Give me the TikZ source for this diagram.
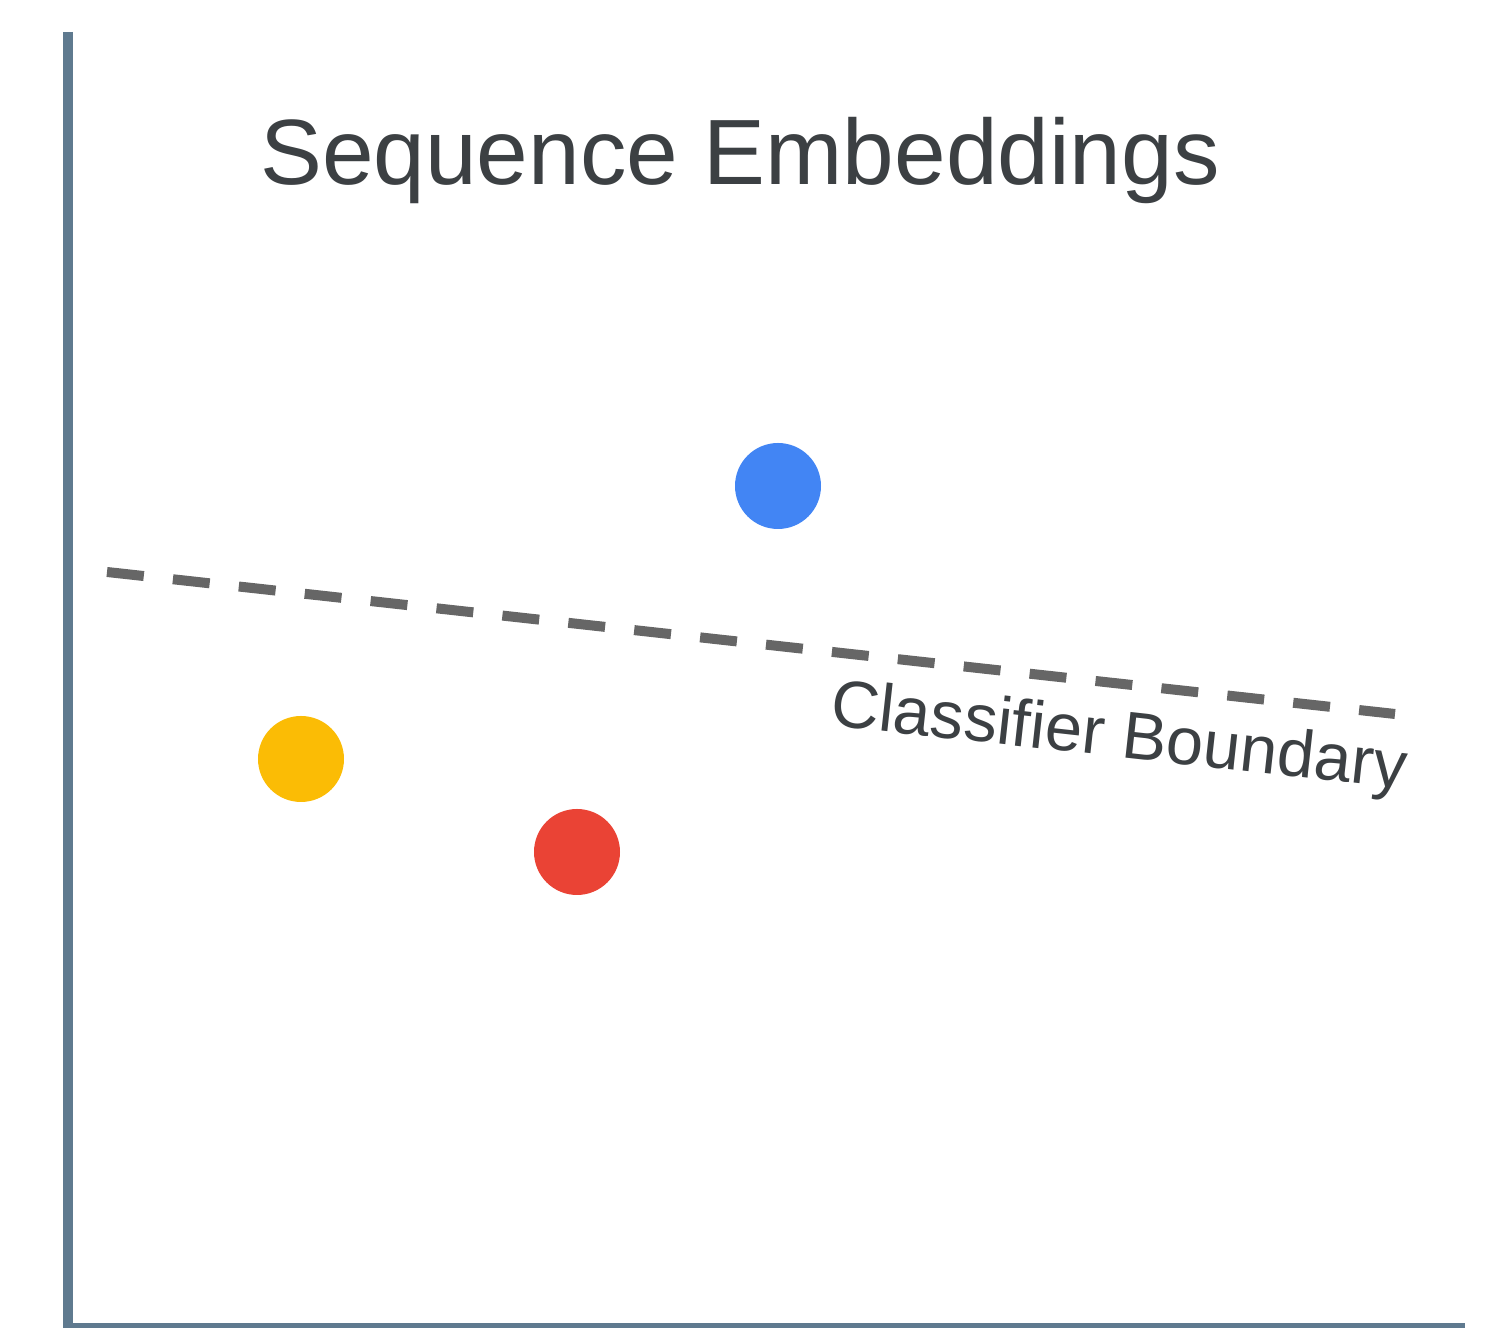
\documentclass[tikz,border=0pt]{standalone}
\usepackage{fontspec}
\setmainfont{Liberation Sans}

\definecolor{axisgray}{HTML}{5F7A8F}
\definecolor{textgray}{HTML}{3C4043}
\definecolor{dashgray}{HTML}{666666}
\definecolor{gblue}{HTML}{4285F4}
\definecolor{gyellow}{HTML}{FBBC05}
\definecolor{gred}{HTML}{EA4335}

\tikzset{
    dot/.style={circle, minimum size=0.86cm, inner sep=0pt},
    boundary/.style={dashgray, line width=0.1cm, dash pattern=on 0.37cm off 0.293cm}
}

\begin{document}
\begin{tikzpicture}
    \useasboundingbox (0,0) rectangle (14.97,13.28);

    % axes
    \coordinate (top) at (0.68,12.96);
    \coordinate (origin) at (0.68,0);
    \coordinate (right) at (14.65,0);
    \draw[axisgray, line width=0.1cm] (top) -- (origin) -- (right);

    \node[textgray, anchor=base, font=\fontsize{26.4}{32}\selectfont] (title) at (7.40,11.43) {Sequence Embeddings};

    % embedded points
    \node[dot, fill=gblue] (blue) at (7.78,8.42) {};
    \node[dot, fill=gyellow] (yellow) at (3.01,5.69) {};
    \node[dot, fill=gred] (red) at (5.77,4.76) {};

    % separating line
    \coordinate (b1) at (1.07,7.56);
    \coordinate (b2) at (13.95,6.14);
    \draw[boundary] (b1) -- (b2);
    \node[textgray, anchor=base, rotate=-6.3, font=\fontsize{19}{23}\selectfont] (boundlabel) at (11.17,5.71) {Classifier Boundary};
\end{tikzpicture}
\end{document}
